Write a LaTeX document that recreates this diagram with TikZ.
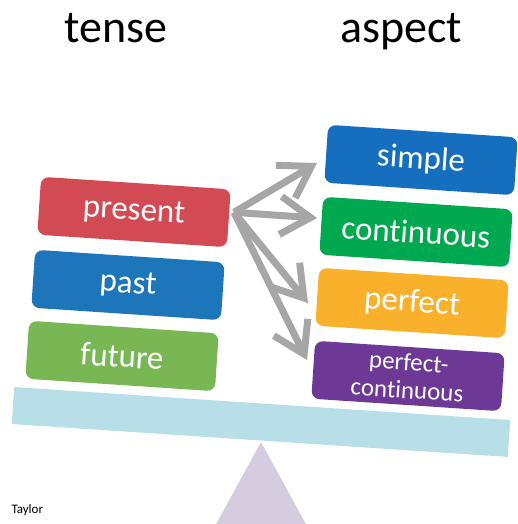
\documentclass[tikz,border=0pt]{standalone}
\usepackage{fontspec}
\setmainfont{Carlito}[Ligatures=NoCommon]
\usetikzlibrary{arrows.meta}
\definecolor{cpres}{RGB}{210,74,83}
\definecolor{cpast}{RGB}{30,118,186}
\definecolor{cfut}{RGB}{120,183,84}
\definecolor{csimp}{RGB}{22,110,190}
\definecolor{ccont}{RGB}{0,168,80}
\definecolor{cperf}{RGB}{249,176,42}
\definecolor{cpcont}{RGB}{110,56,150}
\definecolor{cbeam}{RGB}{184,222,232}
\definecolor{cpivot}{RGB}{214,204,223}
\definecolor{carr}{RGB}{166,166,166}
\tikzset{
  tbox/.style={rounded corners=8pt, minimum width=190pt, minimum height=58pt, inner sep=0pt,
    text=white, font=\fontsize{33}{36}\selectfont, rotate=-3.8},
  ttl/.style={font=\fontsize{46}{50}\selectfont, anchor=base},
  garr/.style={carr, line width=7pt, -{Straight Barb[length=30pt, width=38pt]}},
}
\begin{document}
\begin{tikzpicture}[x=1pt,y=-1pt]
  \useasboundingbox[fill=white] (0,0) rectangle (518,524);
  % pivot and beam
  \fill[cpivot] (261,442) -- (215,526) -- (307,526) -- cycle;
  \node[rotate=-3.8, fill=cbeam, minimum width=497pt, minimum height=37pt, inner sep=0pt] (beam) at (261,422) {};
  % headings
  \node[ttl] (tense) at (116,43) {tense};
  \node[ttl] (aspect) at (401,43) {aspect};
  % tense boxes
  \foreach \nm/\x/\y/\col in {present/134/212/cpres, past/128/285/cpast, future/122/356/cfut}
    \node[tbox, fill=\col] (\nm) at (\x,\y) {\nm};
  % aspect boxes
  \foreach \nm/\x/\y/\col in {simple/421/160/csimp, continuous/416/232/ccont, perfect/412/303/cperf}
    \node[tbox, fill=\col] (\nm) at (\x,\y) {\nm};
  \node[tbox, fill=cpcont, align=center, font=\fontsize{25}{28}\selectfont] (pcont) at (408,376) {perfect-\\continuous};
  % arrows
  \coordinate (fork) at ([xshift=5pt,yshift=6pt]present.east);
  \coordinate (t1) at (317,163);
  \coordinate (t2) at (317,218);
  \coordinate (t3) at (308,303);
  \coordinate (t4) at (307,360);
  \foreach \t in {t1,t2,t3,t4}
    \draw[garr] (fork) -- (\t);
  \node[font=\fontsize{13}{15}\selectfont, anchor=base west] (credit) at (8,513) {Taylor};
\end{tikzpicture}
\end{document}
